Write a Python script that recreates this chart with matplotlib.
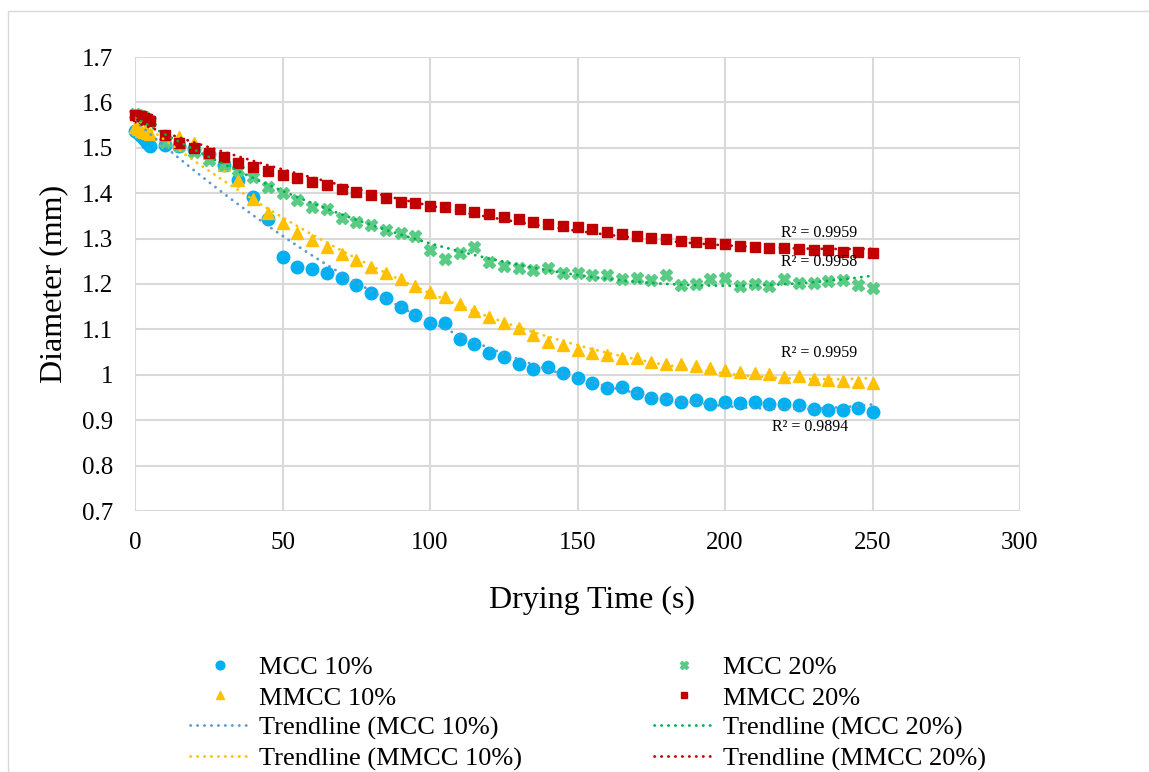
import numpy as np
import matplotlib
matplotlib.use("Agg")
import matplotlib.pyplot as plt
from matplotlib.patches import Rectangle
from matplotlib.ticker import FuncFormatter

plt.rcParams['font.family'] = ['Liberation Serif', 'DejaVu Serif']

# ---- data ----
time_s = [0, 1, 2, 3, 4, 5, 10, 15, 20, 25, 30, 35, 40, 45, 50, 55, 60, 65, 70, 75,
          80, 85, 90, 95, 100, 105, 110, 115, 120, 125, 130, 135, 140, 145, 150,
          155, 160, 165, 170, 175, 180, 185, 190, 195, 200, 205, 210, 215, 220,
          225, 230, 235, 240, 245, 250]

mcc10 = [1.538, 1.532, 1.526, 1.519, 1.511, 1.503, 1.507, 1.503, 1.497, 1.487,
         1.462, 1.429, 1.392, 1.343, 1.259, 1.237, 1.233, 1.224, 1.213, 1.198,
         1.180, 1.169, 1.149, 1.132, 1.114, 1.114, 1.079, 1.068, 1.048, 1.039,
         1.024, 1.013, 1.017, 1.004, 0.993, 0.982, 0.971, 0.973, 0.960, 0.949,
         0.947, 0.940, 0.944, 0.935, 0.940, 0.938, 0.940, 0.936, 0.936, 0.933,
         0.925, 0.922, 0.922, 0.927, 0.918]

mmcc10 = [1.545, 1.542, 1.538, 1.535, 1.532, 1.530, 1.528, 1.524, 1.510, 1.488,
          1.462, 1.429, 1.387, 1.356, 1.334, 1.312, 1.297, 1.281, 1.266, 1.253,
          1.238, 1.224, 1.211, 1.196, 1.182, 1.171, 1.156, 1.141, 1.127, 1.114,
          1.102, 1.088, 1.072, 1.066, 1.055, 1.048, 1.044, 1.037, 1.037, 1.028,
          1.024, 1.024, 1.019, 1.015, 1.011, 1.006, 1.004, 1.002, 0.995, 0.997,
          0.991, 0.989, 0.986, 0.984, 0.982]

mcc20 = [1.575, 1.573, 1.570, 1.567, 1.563, 1.558, 1.512, 1.505, 1.490, 1.473,
         1.462, 1.451, 1.436, 1.413, 1.400, 1.385, 1.370, 1.365, 1.345, 1.337,
         1.330, 1.319, 1.313, 1.305, 1.275, 1.255, 1.268, 1.281, 1.248, 1.240,
         1.236, 1.231, 1.235, 1.224, 1.225, 1.220, 1.220, 1.211, 1.213, 1.209,
         1.220, 1.198, 1.200, 1.211, 1.213, 1.196, 1.200, 1.196, 1.211, 1.202,
         1.203, 1.207, 1.208, 1.198, 1.191]

mmcc20 = [1.572, 1.571, 1.569, 1.566, 1.563, 1.558, 1.528, 1.511, 1.500, 1.489,
          1.480, 1.467, 1.458, 1.449, 1.440, 1.433, 1.425, 1.418, 1.409, 1.403,
          1.396, 1.389, 1.381, 1.378, 1.372, 1.370, 1.365, 1.359, 1.354, 1.348,
          1.343, 1.337, 1.332, 1.328, 1.325, 1.321, 1.314, 1.310, 1.306, 1.301,
          1.299, 1.295, 1.293, 1.290, 1.288, 1.284, 1.281, 1.279, 1.279, 1.277,
          1.275, 1.275, 1.270, 1.270, 1.268]

series_names = ['MCC 10%', 'MMCC 10%', 'MCC 20%', 'MMCC 20%']
r2_labels = ['R² = 0.9894', 'R² = 0.9959', 'R² = 0.9958', 'R² = 0.9959']
x_ticks = [0, 50, 100, 150, 200, 250, 300]
y_ticks = [0.7, 0.8, 0.9, 1.0, 1.1, 1.2, 1.3, 1.4, 1.5, 1.6, 1.7]

# ---- styling ----
marker_colors = ['#00B0F0', '#FFC000', '#5ACB85', '#C00000']
trend_colors = ['#5B9BD5', '#FFC000', '#00B050', '#C00000']
markers = ['o', '^', 'X', 's']
msizes = [9.0, 8.8, 9.0, 7.0]
r2_pos = [(229, 0.885), (232, 1.048), (232, 1.248), (232, 1.312)]

fig = plt.figure(figsize=(11.49, 7.72), dpi=100)
ax = fig.add_axes([135/1149, 1-511/772, (1020-135)/1149, (511-57)/772])

t = np.array(time_s, dtype=float)
all_series = [mcc10, mmcc10, mcc20, mmcc20]
scatter_handles = []
trend_handles = []
for i, ys in enumerate(all_series):
    y = np.array(ys)
    h, = ax.plot(t, y, linestyle='none', marker=markers[i], ms=msizes[i],
                 color=marker_colors[i], mec=marker_colors[i], zorder=3,
                 label=series_names[i], clip_on=False)
    scatter_handles.append(h)
for i, ys in enumerate(all_series):
    y = np.array(ys)
    coef = np.polyfit(t, y, 2)
    tt = np.linspace(t.min(), t.max(), 400)
    th, = ax.plot(tt, np.polyval(coef, tt), color=trend_colors[i], lw=2.0,
                  linestyle=(0, (0.1, 2.4)), dash_capstyle='round', zorder=4,
                  label='Trendline (' + series_names[i] + ')')
    trend_handles.append(th)
    ax.text(r2_pos[i][0], r2_pos[i][1], r2_labels[i], ha='center', va='center',
            fontsize=11.5, color='#000000', zorder=5)

ax.set_xlim(0, 300)
ax.set_ylim(0.7, 1.7)
ax.set_xticks(x_ticks)
ax.set_yticks(y_ticks)
ax.yaxis.set_major_formatter(FuncFormatter(lambda v, p: ('%.1f' % v).rstrip('0').rstrip('.')))
ax.grid(True, color='#D9D9D9', lw=1.5, zorder=0)
ax.set_axisbelow(True)
for s in ax.spines.values():
    s.set_visible(False)
ax.tick_params(axis='both', length=0, labelsize=18)
ax.tick_params(axis='x', pad=15)
ax.tick_params(axis='y', pad=15.8)
ax.set_xlabel('Drying Time (s)', fontsize=23)
ax.set_ylabel('Diameter (mm)', fontsize=23, labelpad=10)
ax.xaxis.set_label_coords(0.516, -0.166)

handles = [scatter_handles[0], scatter_handles[1], trend_handles[0], trend_handles[1],
           scatter_handles[2], scatter_handles[3], trend_handles[2], trend_handles[3]]
labels = [h.get_label() for h in handles]
leg = fig.legend(handles, labels, ncol=2, loc='upper left',
                 bbox_to_anchor=(190/1149, 1-656/772), frameon=False,
                 fontsize=19, handlelength=2.31, handletextpad=0.3,
                 columnspacing=5.0, labelspacing=0.25, borderpad=0,
                 borderaxespad=0, markerscale=0.7)

fig.patches.append(Rectangle((8/1149, -0.2), 1.5, 1.2 - 11/772, transform=fig.transFigure,
                             fill=False, ec='#D9D9D9', lw=1.0))

fig.savefig('out.png', dpi=100)
